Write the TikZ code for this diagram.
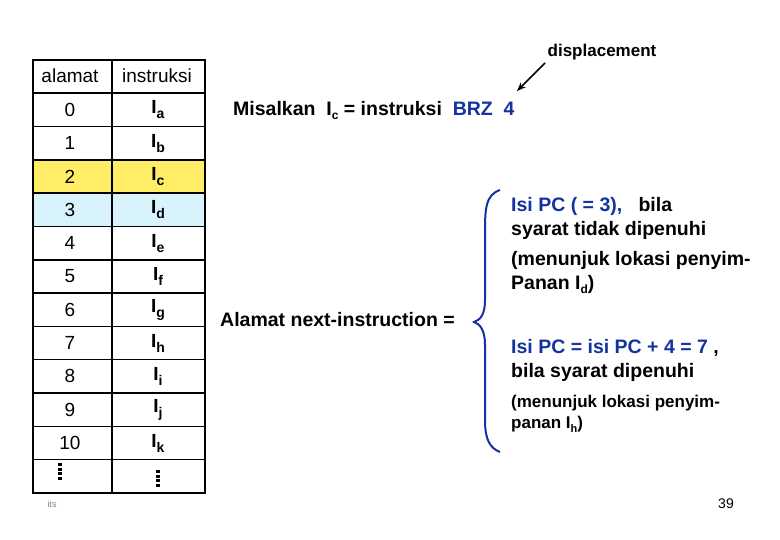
\documentclass[tikz,border=0pt]{standalone}
\usepackage{fontspec}
\setmainfont{Liberation Sans}
\usetikzlibrary{arrows.meta}
\begin{document}
\begin{tikzpicture}[x=1pt,y=-1pt,
  cell/.style={font=\fontsize{19}{22}\selectfont},
  bt/.style={font=\bfseries\fontsize{19.5}{24}\selectfont,anchor=west,inner sep=1pt},
  bl/.style={color={rgb,255:red,20;green,50;blue,160}},
  dotsq/.style={fill=black}]
\useasboundingbox (0,0) rectangle (780,540);
\fill[yellow!85!orange!60] (33,160) rectangle (205,193);
\fill[cyan!15] (33,193) rectangle (205,227);
\foreach \i in {1,...,12}{\draw[line width=1.6pt] (33,{60+\i*33.3}) -- (205,{60+\i*33.3});}
\draw[line width=2.6pt] (33,60) rectangle (205,493);
\draw[line width=1.6pt] (112,60) -- (112,493);
\node[cell] (h1) at (70,76) {alamat};
\node[cell] (h2) at (157,76) {instruksi};
\foreach \n/\s [count=\k from 0] in {0/a,1/b,2/c,3/d,4/e,5/f,6/g,7/h,8/i,9/j,10/k}{
  \node[cell] (a\k) at (70,{110+\k*33.3}) {\n};
  \node[cell] (b\k) at (158,{110+\k*33.3}) {\textbf{I}\raisebox{-5pt}{\fontsize{14}{14}\selectfont\textbf{\s}}};
}
\foreach \j in {0,...,3}{
  \fill[dotsq] (58,{463+\j*4.5}) rectangle (61.5,{466+\j*4.5});
  \fill[dotsq] (156,{470+\j*4.5}) rectangle (159.5,{473+\j*4.5});
}
\node[font=\fontsize{9}{10}\selectfont,color=gray] (its) at (52,504) {its};
\node[bt] (mis) at (232,110) {Misalkan\ \ I\raisebox{-4pt}{\fontsize{12}{12}\selectfont c} = instruksi\ \ \textcolor[rgb]{0.08,0.2,0.63}{BRZ\ \ 4}};
\node[font=\bfseries\fontsize{17}{20}\selectfont] (disp) at (602,52) {displacement};
\coordinate (four) at (517,91);
\draw[-{Stealth[length=9pt,width=7pt]},line width=1.5pt] (545,63) -- (four);
\node[bt] (alm) at (219,320) {Alamat next-instruction =};
\draw[bl,line width=2pt] (500,190) .. controls (485,195) and (485,210) .. (485,235) -- (485,300) .. controls (485,315) and (480,320) .. (474,322) .. controls (480,324) and (485,330) .. (485,345) -- (485,420) .. controls (485,440) and (490,448) .. (500,452);
\node[bt,align=left,anchor=north west] (t1) at (510,196) {\textcolor[rgb]{0.08,0.2,0.63}{Isi PC ( = 3),}\ \ \ bila\\syarat tidak dipenuhi\\[6pt](menunjuk lokasi penyim-\\Panan I\raisebox{-4pt}{\fontsize{12}{12}\selectfont d})};
\node[bt,align=left,anchor=north west] (t2) at (510,338) {\textcolor[rgb]{0.08,0.2,0.63}{Isi PC = isi PC + 4 = 7} ,\\bila syarat dipenuhi};
\node[bt,align=left,anchor=north west,font=\bfseries\fontsize{17}{21}\selectfont] (t3) at (510,394) {(menunjuk lokasi penyim-\\panan I\raisebox{-4pt}{\fontsize{11}{11}\selectfont h})};
\node[font=\fontsize{14}{16}\selectfont] (pg) at (726,504) {39};
\end{tikzpicture}
\end{document}
